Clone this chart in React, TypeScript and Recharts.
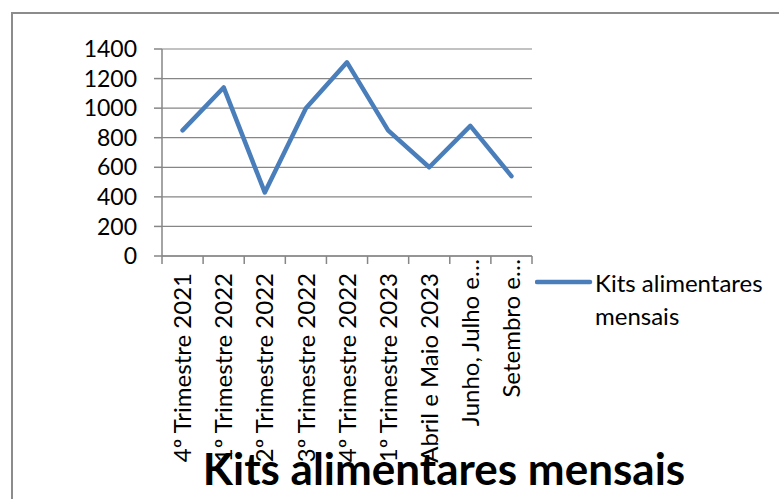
import { LineChart, Line, XAxis, YAxis, CartesianGrid, Legend } from 'recharts';

const categories = [
  '4º Trimestre 2021',
  '1º Trimestre 2022',
  '2º Trimestre 2022',
  '3º Trimestre 2022',
  '4º Trimestre 2022',
  '1º Trimestre 2023',
  'Abril e Maio 2023',
  'Junho, Julho e…',
  'Setembro e…',
];
const kitsMensais = [850, 1140, 430, 1000, 1310, 850, 600, 880, 540];
const yTicks = [0, 200, 400, 600, 800, 1000, 1200, 1400];

const FONT = 'Lato, "Open Sans", sans-serif';
const BLUE = '#4a7ebb';
const GRAY = '#868686';

// points sit in the middle of each category band, ticks on the band edges
const data = categories.map((label, i) => ({ pos: i + 0.5, label, kits: kitsMensais[i] }));
const xTicks = categories.flatMap((_, i) => [i, i + 0.5]).concat(categories.length);

function XTick(props: any) {
  const { x, y, payload } = props;
  const v = payload.value as number;
  if (Number.isInteger(v)) {
    return <line x1={x} x2={x} y1={y} y2={y + 8} stroke={GRAY} strokeWidth={1.5} />;
  }
  const label = categories[Math.floor(v)];
  const off = label.endsWith('…') ? 3 : 17;
  return (
    <g transform={`translate(${x},${y + off}) rotate(-90)`}>
      <text textAnchor="end" dy="0.36em" fontSize={24} fill="#000" fontFamily={FONT}>
        {label}
      </text>
    </g>
  );
}

function KitsLegend(props: any) {
  const item = props.payload?.[0];
  return (
    <div style={{ display: 'flex', alignItems: 'flex-start', fontFamily: FONT, fontSize: 24, lineHeight: '33px', color: '#000' }}>
      <svg width={60} height={33}>
        <line x1={2} x2={55} y1={16} y2={16} stroke={BLUE} strokeWidth={4.5} strokeLinecap="round" />
      </svg>
      <span style={{ width: 180 }}>{item ? item.value : ''}</span>
    </div>
  );
}

export default function App() {
  return (
    <div style={{ position: 'fixed', left: 0, top: 0, width: 779, height: 499, overflow: 'hidden', background: '#fff' }}>
      <div
        style={{
          position: 'absolute',
          left: 11,
          top: 12,
          width: 800,
          height: 600,
          border: '2px solid #8c8c8c',
          boxSizing: 'border-box',
        }}
      />
      <LineChart
        width={779}
        height={499}
        data={data}
        margin={{ top: 49, right: 247, bottom: 43, left: 82 }}
        style={{ position: 'absolute', left: 0, top: 0 }}
      >
        <CartesianGrid horizontal vertical={false} stroke={GRAY} strokeWidth={1.2} />
        <XAxis
          dataKey="pos"
          type="number"
          domain={[0, categories.length]}
          ticks={xTicks}
          interval={0}
          height={200}
          tickSize={0}
          tickMargin={0}
          tickLine={false}
          axisLine={{ stroke: GRAY, strokeWidth: 1.5 }}
          tick={<XTick />}
        />
        <YAxis
          domain={[0, 1400]}
          ticks={yTicks}
          interval={0}
          width={80}
          tickSize={8}
          tickMargin={17}
          axisLine={{ stroke: GRAY, strokeWidth: 1.5 }}
          tickLine={{ stroke: GRAY, strokeWidth: 1.5 }}
          tick={{ fontSize: 23, fill: '#000', fontFamily: FONT }}
        />
        <Legend
          layout="horizontal"
          verticalAlign="middle"
          align="center"
          wrapperStyle={{ left: 535, top: 266, width: 240 }}
          content={<KitsLegend />}
        />
        <Line
          dataKey="kits"
          name="Kits alimentares mensais"
          stroke={BLUE}
          strokeWidth={4.5}
          strokeLinejoin="round"
          strokeLinecap="round"
          dot={false}
          activeDot={false}
          isAnimationActive={false}
        />
      </LineChart>
      <div
        style={{
          position: 'absolute',
          left: 144,
          top: 446,
          width: 600,
          textAlign: 'center',
          fontFamily: FONT,
          fontWeight: 'bold',
          fontSize: 44,
          lineHeight: 1,
          color: '#000',
          whiteSpace: 'nowrap',
        }}
      >
        Kits alimentares mensais
      </div>
    </div>
  );
}
